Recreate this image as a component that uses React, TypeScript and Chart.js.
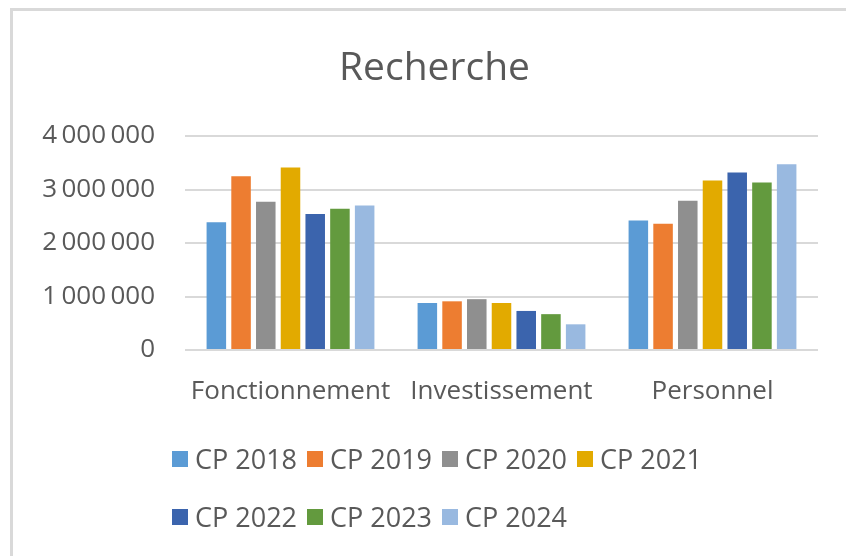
import React, { useEffect, useRef } from "react";
import { Chart, registerables } from "chart.js";

Chart.register(...registerables);

const title = "Recherche";
const categories = ["Fonctionnement", "Investissement", "Personnel"];
const seriesLabels = ["CP 2018", "CP 2019", "CP 2020", "CP 2021", "CP 2022", "CP 2023", "CP 2024"];
const seriesColors = ["#5B9BD5", "#ED7D31", "#8F8F8F", "#E2AA00", "#3B64AD", "#639A3E", "#99B9E0"];

const cp2018 = [2390000, 880000, 2420000];
const cp2019 = [3250000, 910000, 2360000];
const cp2020 = [2770000, 950000, 2790000];
const cp2021 = [3410000, 880000, 3170000];
const cp2022 = [2540000, 730000, 3320000];
const cp2023 = [2640000, 670000, 3130000];
const cp2024 = [2700000, 480000, 3470000];
const seriesValues = [cp2018, cp2019, cp2020, cp2021, cp2022, cp2023, cp2024];

const yMin = 0;
const yMax = 4000000;
const yStep = 1000000;

const FONT = '"Open Sans", "Noto Sans", sans-serif';
const TEXT = "#595959";

function fmt(v: number): string {
  return String(Math.round(v)).replace(/\B(?=(\d{3})+(?!\d))/g, "\u2009");
}

const framePlugin = {
  id: "frameAndTitle",
  beforeDraw(chart: any) {
    const ctx = chart.ctx;
    ctx.save();
    ctx.fillStyle = "#ffffff";
    ctx.fillRect(0, 0, chart.width, chart.height);
    ctx.fillStyle = "#d9d9d9";
    ctx.fillRect(10, 8, 3, chart.height - 8);
    ctx.fillRect(10, 8, chart.width - 10, 3);
    ctx.restore();
  },
  afterDraw(chart: any) {
    const ctx = chart.ctx;
    ctx.save();
    ctx.fillStyle = TEXT;
    ctx.font = `39px ${FONT}`;
    ctx.textAlign = "center";
    ctx.textBaseline = "alphabetic";
    ctx.fillText(title, 434.5, 80);
    ctx.restore();
  },
};

export default function App() {
  const ref = useRef<HTMLCanvasElement | null>(null);

  useEffect(() => {
    if (!ref.current) return;
    const chart = new Chart(ref.current, {
      type: "bar",
      data: {
        labels: categories,
        datasets: seriesLabels.map((label, i) => ({
          label,
          data: seriesValues[i],
          backgroundColor: seriesColors[i],
          borderWidth: 0,
          categoryPercentage: 0.82,
          barPercentage: 0.79,
        })),
      },
      options: {
        responsive: false,
        animation: false,
        devicePixelRatio: 1,
        layout: { padding: { left: 0, right: 28, top: 136, bottom: 146 } },
        plugins: {
          legend: { display: false },
          tooltip: { enabled: false },
          title: { display: false },
        },
        scales: {
          x: {
            grid: { display: false, drawTicks: false },
            border: { display: false },
            ticks: { color: TEXT, font: { family: FONT, size: 26 }, padding: 26 },
            afterFit: (s: any) => {
              s.height = 60;
            },
          },
          y: {
            min: yMin,
            max: yMax,
            grid: { color: "#d9d9d9", lineWidth: 2, drawTicks: false },
            border: { display: false },
            ticks: {
              stepSize: yStep,
              color: TEXT,
              font: { family: FONT, size: 26 },
              padding: 30,
              callback: (v: any) => fmt(Number(v)),
            },
            afterFit: (s: any) => {
              s.width = 185;
            },
          },
        },
      },
      plugins: [framePlugin],
    });
    return () => chart.destroy();
  }, []);

  return (
    <div style={{ position: "fixed", left: 0, top: 0, width: 846, height: 556, background: "#fff" }}>
      <canvas ref={ref} width={846} height={556} style={{ display: "block" }} />
      <div
        style={{
          position: "absolute",
          left: 172,
          top: 441,
          width: 580,
          display: "flex",
          flexWrap: "wrap",
          rowGap: 22,
          fontFamily: FONT,
          fontSize: 27,
          color: TEXT,
          lineHeight: "36px",
        }}
      >
        {seriesLabels.map((label, i) => (
          <div key={label} style={{ display: "flex", alignItems: "center", marginRight: 10 }}>
            <span style={{ width: 16, height: 16, background: seriesColors[i], marginRight: 7, display: "inline-block" }} />
            <span>{label}</span>
          </div>
        ))}
      </div>
    </div>
  );
}
